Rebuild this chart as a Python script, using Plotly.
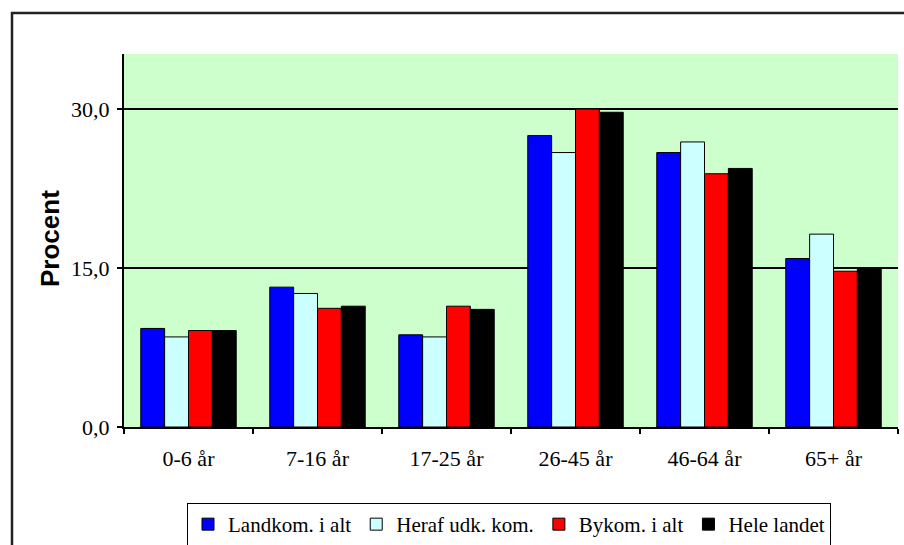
import plotly.graph_objects as go

categories = ["0-6 år", "7-16 år", "17-25 år", "26-45 år", "46-64 år", "65+ år"]
series_names = ["Landkom. i alt", "Heraf udk. kom.", "Bykom. i alt", "Hele landet"]
landkom = [9.3, 13.2, 8.7, 27.5, 25.9, 15.9]
heraf = [8.5, 12.6, 8.5, 25.9, 26.9, 18.2]
bykom = [9.1, 11.2, 11.4, 30.0, 23.9, 14.7]
hele = [9.1, 11.4, 11.1, 29.7, 24.4, 15.0]
y_ticks = [0, 15, 30]

colors = ["#0000FF", "#CCFFFF", "#FF0000", "#000000"]
values = [landkom, heraf, bykom, hele]

fig = go.Figure()
for name, vals, col in zip(series_names, values, colors):
    fig.add_trace(go.Bar(
        x=categories, y=vals, name=name,
        marker=dict(color=col, line=dict(color="#000000", width=1)),
    ))

W, H = 904, 545
L, T = 124, 54
R = W - 898
B = H - 427
pw, ph = W - L - R, H - T - B

def px(x):
    return (x - L) / pw

def py(y):
    return (H - B - y) / ph

fig.update_layout(
    width=W, height=H,
    margin=dict(l=L, r=R, t=T, b=B, autoexpand=False),
    paper_bgcolor="white",
    plot_bgcolor="#CCFFCC",
    barmode="group",
    bargap=0.26,
    bargroupgap=0,
    separators=",.",
    font=dict(family="Liberation Serif, Times New Roman, serif", size=20, color="black"),
    showlegend=True,
    legend=dict(
        orientation="h",
        x=px(509), xanchor="center",
        y=py(503), yanchor="top",
        bordercolor="black", borderwidth=1,
        bgcolor="white",
        font=dict(size=21),
        itemwidth=30,
        tracegroupgap=0,
    ),
    xaxis=dict(
        automargin=False,
        showline=True, linecolor="black", linewidth=2,
        ticks="outside", ticklen=5, tickcolor="black", tickwidth=1.5,
        tickson="boundaries",
        showgrid=False,
        tickfont=dict(size=22),
        ticklabelstandoff=11,
    ),
    yaxis=dict(
        automargin=False,
        range=[0, 35.2],
        tickvals=y_ticks,
        tickformat=".1f",
        showline=True, linecolor="black", linewidth=2,
        ticks="outside", ticklen=5, tickcolor="black", tickwidth=1.5,
        showgrid=True, gridcolor="black", gridwidth=2,
        zeroline=False,
        tickfont=dict(size=22),
        ticklabelstandoff=3,
    ),
    annotations=[
        dict(text="<b>Procent</b>", xref="paper", yref="paper",
             x=px(50), y=py(239), xanchor="center", yanchor="middle",
             textangle=-90, showarrow=False,
             font=dict(family="Liberation Sans, Arial, sans-serif", size=26, color="black")),
    ],
    shapes=[
        dict(type="rect", xref="paper", yref="paper",
             x0=px(12), x1=px(940), y0=py(580), y1=py(13),
             line=dict(color="#222222", width=2.5), fillcolor="rgba(0,0,0,0)", layer="below"),
    ],
)

fig.write_html(
    "out.html",
    config={"displayModeBar": False},
    post_script="document.body.style.margin='0';document.body.style.overflow='hidden';",
)
